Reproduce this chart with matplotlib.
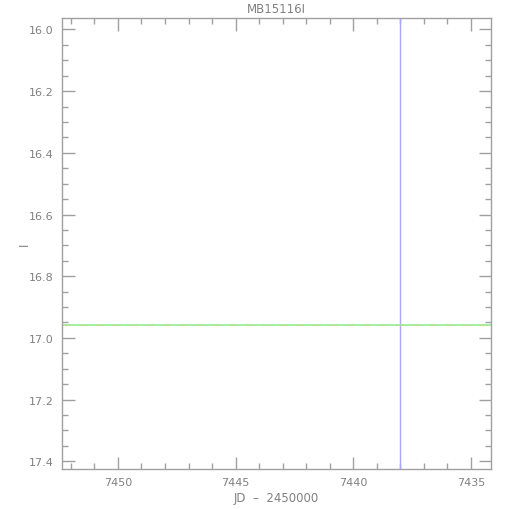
import matplotlib
matplotlib.use('Agg')
import matplotlib.pyplot as plt
from matplotlib.ticker import MultipleLocator

# data
title = 'MB15116I'
x_range = [7452.38, 7434.14]
y_range = [15.963, 17.425]
peak_jd = [7438.02]       # vertical marker
baseline_mag = [16.957]   # horizontal baseline

grey = '#a0a0a0'
txt = '#808080'

fig = plt.figure(figsize=(5.1, 5.1), dpi=100)
ax = fig.add_axes([62 / 510, 40 / 510, 429 / 510, 451 / 510])

for x in peak_jd:
    ax.axvline(x, color='#a8a8ff', lw=1.0)
for y in baseline_mag:
    ax.axhline(y, color='#90ee90', lw=1.2)
    ax.axhline(y, color='#f0c070', lw=1.0, ls=(0, (6, 6)), alpha=0.35)

ax.set_xlim(x_range)
ax.set_ylim(y_range[1], y_range[0])

ax.xaxis.set_major_locator(MultipleLocator(5))
ax.xaxis.set_minor_locator(MultipleLocator(1))
ax.yaxis.set_major_locator(MultipleLocator(0.2))
ax.yaxis.set_minor_locator(MultipleLocator(0.05))
ax.yaxis.set_major_formatter(plt.FuncFormatter(lambda v, p: '%.1f' % v))

ax.tick_params(which='both', direction='in', top=True, right=True,
               color=grey, labelcolor=txt, labelsize=8, width=1)
ax.tick_params(which='major', length=9, pad=6)
ax.tick_params(which='minor', length=4.5)
for s in ax.spines.values():
    s.set_color(grey)
    s.set_linewidth(1)

ax.set_title(title, color=txt, fontsize=8.5, pad=4)
ax.set_xlabel('JD  \u2013  2450000', color=txt, fontsize=8.5, labelpad=3)
ax.set_ylabel('I', color=txt, fontsize=8.5, rotation=90)
ax.yaxis.set_label_coords(-31 / 429, 0.5)

fig.savefig('out.png', dpi=100)
